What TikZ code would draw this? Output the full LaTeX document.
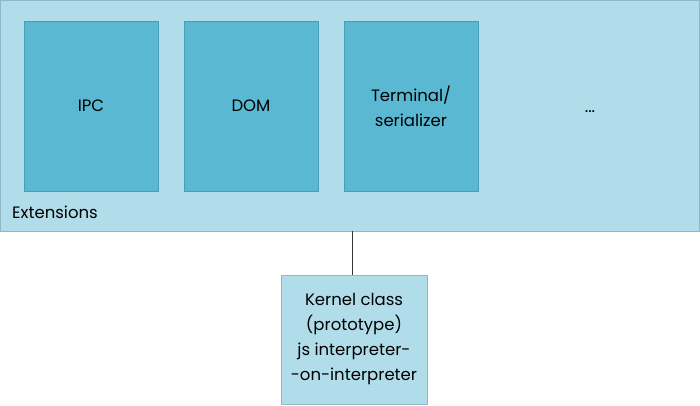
\documentclass[tikz,border=0pt]{standalone}
\usepackage{fontspec}
\setmainfont{Poppins}
\usetikzlibrary{positioning}
\usepackage{xcolor}
\definecolor{extfill}{HTML}{B0DDE9}
\definecolor{extline}{HTML}{8FB9C6}
\definecolor{modfill}{HTML}{5BB8D2}
\definecolor{modline}{HTML}{4B9DB4}
\tikzset{
	extbox/.style={draw=extline, fill=extfill, anchor=north west, inner sep=0pt},
	modbox/.style={draw=modline, fill=modfill, minimum width=134pt, minimum height=170pt, align=center, inner sep=0pt},
	kernbox/.style={draw=extline, fill=extfill, minimum width=146pt, minimum height=129pt, align=center, inner sep=0pt},
}
\begin{document}
\begin{tikzpicture}[x=1pt, y=-1pt, font=\fontsize{16.5}{25}\selectfont]
			\useasboundingbox (0,0) rectangle (700,406);
			% 扩展
			\node[extbox, minimum width=699pt, minimum height=230pt] (ext) at (0,0.5) {};
			\node[anchor=west, inner sep=0pt] (extlabel) at (12,212) {Extensions};
			% 模块
			\node[modbox] (ipc) at (91,106) {IPC};
			\node[modbox] (dom) at (251,106) {DOM};
			\node[modbox] (term) at (411,106) {Terminal/\\serializer};
			\node (more) at (590,112) {...};
			% 内核
			\node[kernbox] (kernel) at (354,339.5) {Kernel class\\(prototype)\\js interpreter-\\-on-interpreter};
			\draw[black!80] (kernel.north -| 352,0) -- (ext.south -| 352,0);
		\end{tikzpicture}
\end{document}
